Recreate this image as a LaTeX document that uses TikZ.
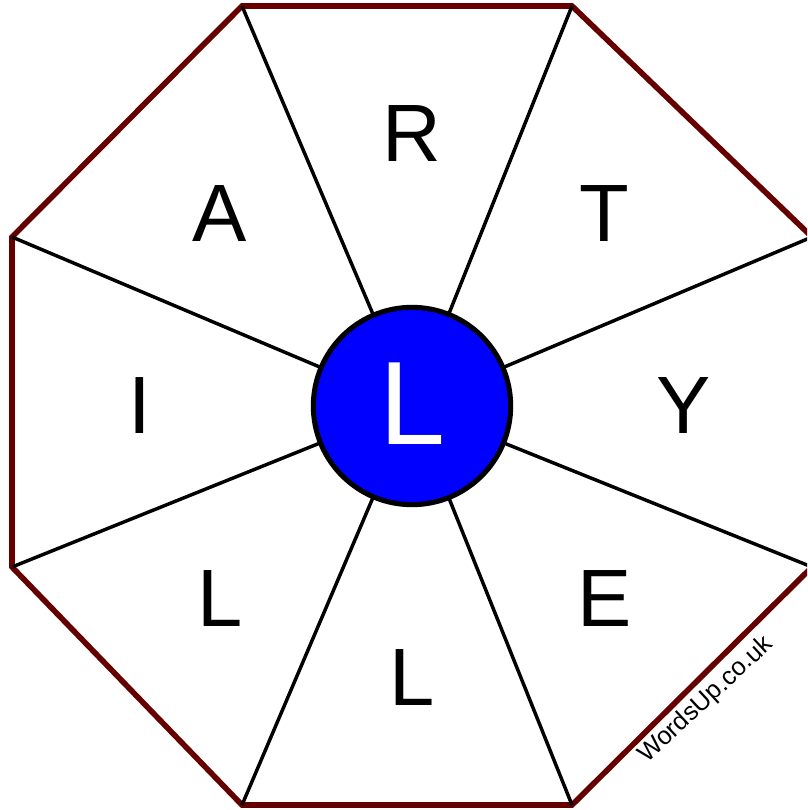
\documentclass[tikz,border=0pt]{standalone}
\usepackage{fontspec}
\setmainfont{Liberation Sans}
\usetikzlibrary{calc}
\definecolor{rimred}{RGB}{102,0,0}
\definecolor{hubblue}{RGB}{0,0,255}
\tikzset{
  rim/.style={draw=rimred, line width=4.2pt, line join=miter},
  spoke/.style={draw=black, line width=2.6pt},
  hub/.style={circle, draw=black, fill=hubblue, line width=3.8pt, minimum size=148pt, inner sep=0pt, text=white, font=\fontsize{89}{89}\selectfont},
  letter/.style={font=\fontsize{61}{61}\selectfont, inner sep=0pt}
}

\begin{document}
\begin{tikzpicture}[x=0.75pt,y=-0.75pt]
  \useasboundingbox (0,0) rectangle (807,810);
  \clip (0,0) rectangle (807,810);
  \coordinate (c) at (412,406);
  \foreach \n/\x/\y in {1/242/6, 2/572/6, 3/812/237, 4/812/567, 5/572/805, 6/242/805, 7/12/567, 8/12/237} {
    \coordinate (v\n) at (\x,\y);
  }
  \draw[rim] (v1) -- (v2) -- (v3) -- (v4) -- (v5) -- (v6) -- (v7) -- (v8) -- cycle;
  \foreach \n in {1,...,8} {
    \draw[spoke] (c) -- (v\n);
  }
  \node[hub] (hub) at (c) {\raisebox{3.5pt}{L}};
  \foreach \ang/\ch/\nm in {-90/R/lr, -45/T/lt, 0/Y/ly, 45/E/le, 90/L/lb, 135/L/lbl, 180/I/li, 225/A/la} {
    \node[letter] (\nm) at ($(c)+(\ang:272)$) {\ch};
  }
  \node[font=\fontsize{19}{19}\selectfont, rotate=43, inner sep=0pt] (site) at (706,700) {WordsUp.co.uk};
\end{tikzpicture}
\end{document}
